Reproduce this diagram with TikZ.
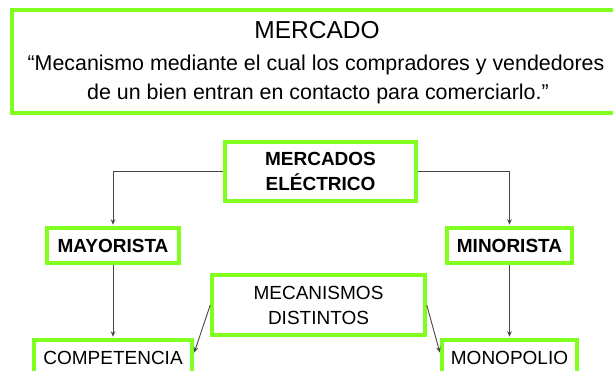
\documentclass[tikz,border=0pt]{standalone}
\usepackage{fontspec}
\setmainfont{Liberation Sans}
\usetikzlibrary{arrows.meta}
\definecolor{lime}{RGB}{128,255,30}
\definecolor{conngray}{RGB}{70,70,70}
\tikzset{
  gbox/.style={draw=lime, line width=3.5pt, fill=white, inner sep=0pt, align=center,
    font=\fontsize{19}{25}\selectfont},
  conn/.style={draw=conngray, line width=0.9pt, -{Stealth[length=5.5pt,width=4.5pt]}, shorten >=1.5pt},
  deftext/.style={anchor=base, inner sep=0pt, font=\fontsize{21.4}{25}\selectfont}
}
\begin{document}
\begin{tikzpicture}[x=1pt,y=-1pt]
\useasboundingbox (0,0) rectangle (613,370);
\clip (0,0) rectangle (613,370);
% top definition box
\node[draw=lime, line width=4pt, minimum width=606pt, minimum height=103pt, inner sep=0pt] (topbox) at (315,61.5) {};
\node[anchor=base, inner sep=0pt, font=\fontsize{24.5}{28}\selectfont] (title) at (317,38) {MERCADO};
\node[deftext] (def1) at (316,70) {“Mecanismo mediante el cual los compradores y vendedores};
\node[deftext] (def2) at (318,99) {de un bien entran en contacto para comerciarlo.\symbol{34}};
% diagram boxes
\node[gbox, minimum width=191pt, minimum height=59pt, font=\bfseries\fontsize{19}{25}\selectfont] (merc) at (320.5,171.5) {MERCADOS\\ELÉCTRICO};
\node[gbox, minimum width=132pt, minimum height=35pt, font=\bfseries\fontsize{19}{25}\selectfont] (may) at (113,245.5) {MAYORISTA};
\node[gbox, minimum width=125pt, minimum height=35pt, font=\bfseries\fontsize{19}{25}\selectfont] (min) at (509.5,245.5) {MINORISTA};
\node[gbox, minimum width=213pt, minimum height=60pt] (mech) at (318.5,305) {MECANISMOS\\DISTINTOS};
\node[gbox, minimum width=158pt, minimum height=36pt] (comp) at (113,358) {COMPETENCIA};
\node[gbox, minimum width=135pt, minimum height=36pt] (mono) at (509.5,358) {MONOPOLIO};
% connectors
\draw[conn] (merc.west) -| (may.north);
\draw[conn] (merc.east) -| (min.north);
\draw[conn] (may.south) -- (comp.north);
\draw[conn] (min.south) -- (mono.north);
\draw[conn] (mech.west) -- ([yshift=4pt]comp.east);
\draw[conn] (mech.east) -- ([yshift=4pt]mono.west);
\end{tikzpicture}
\end{document}
